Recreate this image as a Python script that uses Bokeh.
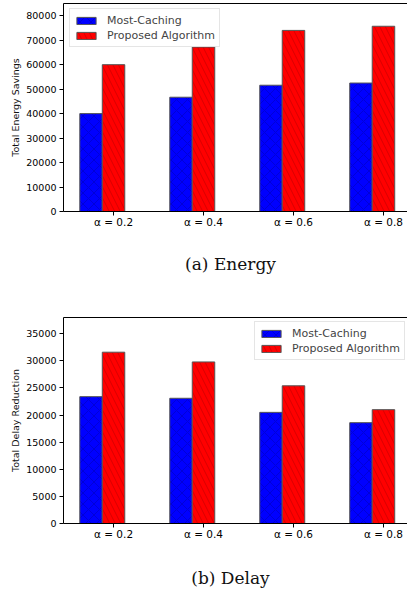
from bokeh.plotting import figure
from bokeh.models import (Range1d, FixedTicker, LinearAxis, Legend, LegendItem, Div,
                          ColumnDataSource, SingleIntervalTicker)
from bokeh.layouts import column
from bokeh.transform import dodge
from bokeh.embed import file_html
from bokeh.resources import INLINE

# ---- data ----
categories = ["α = 0.2", "α = 0.4", "α = 0.6", "α = 0.8"]
series_names = ["Most-Caching", "Proposed Algorithm"]
energy_most = [40000, 46700, 51600, 52500]
energy_prop = [60000, 67200, 74000, 75700]
delay_most = [23400, 23100, 20500, 18600]
delay_prop = [31600, 29800, 25400, 21000]

positions = list(range(len(categories)))
FONT = "DejaVu Sans"


def make(most, prop, ymax, ystep, ylabel, legend_loc, top, frame_h):
    src = ColumnDataSource(dict(x=positions, most=most, prop=prop))
    bottom = 24
    p = figure(width=407, height=top + frame_h + bottom,
               x_range=Range1d(-0.556, 3.267), y_range=Range1d(0, ymax),
               output_backend="svg", toolbar_location=None,
               min_border_left=63, min_border_right=0,
               min_border_top=top, min_border_bottom=bottom)
    p.title.visible = False
    p.outline_line_color = None
    p.xgrid.grid_line_color = None
    p.ygrid.grid_line_color = None

    r1 = p.vbar(x=dodge("x", -0.25), top="most", width=0.25, source=src,
                fill_color="#0000ff", line_color="#555555", line_width=1,
                hatch_pattern="x", hatch_color="black", hatch_alpha=0.15,
                hatch_scale=11, hatch_weight=1)
    r2 = p.vbar(x="x", top="prop", width=0.25, source=src,
                fill_color="#ff0000", line_color="#555555", line_width=1,
                hatch_pattern="\\", hatch_color="black", hatch_alpha=0.15,
                hatch_scale=11, hatch_weight=1)

    xa = p.below[0]
    xa.ticker = FixedTicker(ticks=positions)
    xa.major_label_overrides = {i: c for i, c in zip(positions, categories)}
    ya = p.left[0]
    ya.ticker = SingleIntervalTicker(interval=ystep, num_minor_ticks=0)
    ya.axis_label = ylabel
    ya.axis_label_text_font = FONT
    ya.axis_label_text_font_size = "9.5px"
    ya.axis_label_text_font_style = "normal"
    ya.axis_label_text_color = "#111111"
    ya.axis_label_standoff = 2
    for ax in (xa, ya):
        ax.axis_line_color = "black"
        ax.major_tick_line_color = "black"
        ax.major_tick_out = 4
        ax.major_tick_in = 0
        ax.minor_tick_out = 0
        ax.minor_tick_in = 0
        ax.major_label_text_font = FONT
        ax.major_label_text_font_size = "9.5px"
        ax.major_label_text_color = "black"
        ax.major_label_standoff = 3
    xa.major_label_text_font_size = "10.5px"
    xa.major_label_standoff = 0

    # top border line (no right border, as in reference)
    top_ax = LinearAxis(ticker=FixedTicker(ticks=[]), major_tick_out=0, major_tick_in=0,
                        minor_tick_out=0, minor_tick_in=0, axis_line_color="black",
                        major_label_text_font_size="0px")
    p.add_layout(top_ax, "above")

    legend = Legend(items=[LegendItem(label=series_names[0], renderers=[r1]),
                           LegendItem(label=series_names[1], renderers=[r2])],
                    location=legend_loc, margin=0, padding=4, spacing=1,
                    glyph_width=24, glyph_height=9, label_height=14, label_standoff=9,
                    label_text_font=FONT, label_text_font_size="11px",
                    border_line_color="#cccccc", background_fill_alpha=0.85)
    p.add_layout(legend)
    return p


def caption(text, height, pad):
    return Div(text=('<div style="font-family:\'DejaVu Serif\';font-size:17px;'
                     'text-align:center;width:353px;margin-left:54px;'
                     'padding-top:%dpx;color:#111">%s</div>' % (pad, text)),
               width=407, height=height, margin=0)


p1 = make(energy_most, energy_prop, 85000, 10000, "Total Energy Savings", (6, 164), 3, 208)
c1 = caption("(a) Energy", 65, 17)
p2 = make(delay_most, delay_prop, 38000, 5000, "Total Delay Reduction", (191, 163), 17, 206)
c2 = caption("(b) Delay", 45, 19)

layout = column(p1, c1, p2, c2, spacing=0)
open("out.html", "w").write(file_html(layout, INLINE))
